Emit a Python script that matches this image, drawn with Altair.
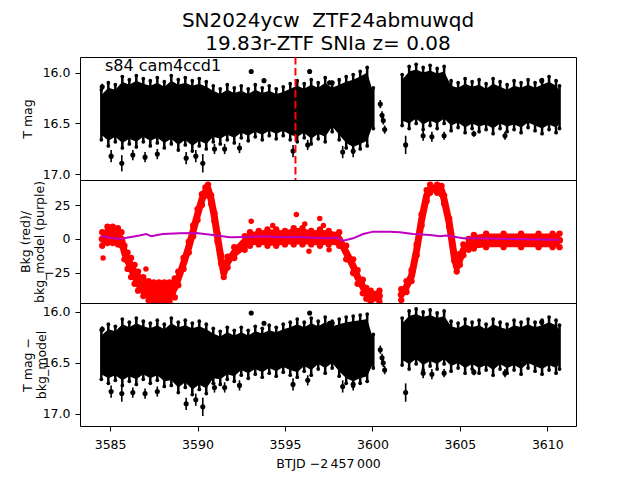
import altair as alt
import pandas as pd

FONT = "DejaVu Sans"
W, H = 496, 123
XDOM = [3583.28, 3611.64]
CORE_INSET = 0.05  # style: how far the solid core sits inside the spike tips

# ---------------- light-curve envelope (panel 1: T mag) ----------------
t_seg1 = [3584.5, 3584.9, 3585.3, 3585.7, 3586.1, 3586.5, 3586.9, 3587.3, 3587.7, 3588.1,
          3588.5, 3588.9, 3589.3, 3589.7, 3590.1, 3590.5, 3590.9, 3591.3, 3591.7, 3592.1,
          3592.5, 3592.9, 3593.3, 3593.7, 3594.1, 3594.5, 3594.9, 3595.3, 3595.7, 3596.1,
          3596.5, 3596.9, 3597.3, 3597.7, 3598.1, 3598.5, 3598.9, 3599.3, 3599.7, 3600.05]
t_seg2 = [3601.7, 3602.1, 3602.5, 3602.9, 3603.3, 3603.7, 3604.1, 3604.5, 3604.9, 3605.3,
          3605.7, 3606.1, 3606.5, 3606.9, 3607.3, 3607.7, 3608.1, 3608.5, 3608.9, 3609.3,
          3609.7, 3610.1, 3610.5, 3610.7]

p1_top_seg1 = [16.17, 16.10, 16.12, 16.04, 16.07, 16.03, 16.06, 16.08, 16.05, 16.09,
               16.03, 16.07, 16.05, 16.08, 16.06, 16.09, 16.13, 16.16, 16.12, 16.15,
               16.13, 16.16, 16.12, 16.15, 16.13, 16.16, 16.14, 16.11, 16.08, 16.11,
               16.07, 16.10, 16.05, 16.10, 16.07, 16.04, 16.02, 15.99, 15.95, 16.15]
p1_bot_seg1 = [16.66, 16.72, 16.68, 16.74, 16.70, 16.73, 16.68, 16.72, 16.69, 16.74,
               16.70, 16.76, 16.71, 16.77, 16.72, 16.75, 16.68, 16.70, 16.66, 16.69,
               16.64, 16.67, 16.63, 16.66, 16.62, 16.65, 16.62, 16.66, 16.68, 16.64,
               16.70, 16.65, 16.68, 16.58, 16.66, 16.74, 16.78, 16.75, 16.72, 16.55]
p1_top_seg2 = [16.02, 15.94, 15.92, 15.95, 15.93, 15.96, 15.94, 16.08, 16.10, 16.06,
               16.09, 16.07, 16.11, 16.06, 16.09, 16.12, 16.08, 16.10, 16.07, 16.10,
               16.07, 16.04, 16.08, 16.13]
p1_bot_seg2 = [16.52, 16.55, 16.50, 16.56, 16.52, 16.55, 16.50, 16.57, 16.54, 16.59,
               16.55, 16.58, 16.56, 16.60, 16.55, 16.58, 16.56, 16.59, 16.54, 16.57,
               16.60, 16.56, 16.59, 16.55]

# ---------------- panel 3: T mag - bkg_model ----------------
p3_top_seg1 = [16.18, 16.12, 16.14, 16.07, 16.10, 16.06, 16.09, 16.11, 16.08, 16.12,
               16.06, 16.10, 16.08, 16.11, 16.09, 16.12, 16.16, 16.19, 16.15, 16.18,
               16.15, 16.18, 16.14, 16.16, 16.13, 16.15, 16.12, 16.10, 16.07, 16.10,
               16.06, 16.09, 16.05, 16.09, 16.07, 16.05, 16.04, 16.03, 16.02, 16.22]
p3_bot_seg1 = [16.66, 16.70, 16.67, 16.72, 16.68, 16.71, 16.66, 16.70, 16.67, 16.73,
               16.72, 16.79, 16.74, 16.81, 16.76, 16.80, 16.70, 16.71, 16.66, 16.68,
               16.62, 16.65, 16.61, 16.64, 16.60, 16.63, 16.59, 16.62, 16.64, 16.58,
               16.62, 16.56, 16.60, 16.55, 16.63, 16.70, 16.73, 16.70, 16.68, 16.55]
p3_top_seg2 = [16.06, 15.99, 15.97, 16.00, 15.98, 16.01, 15.99, 16.09, 16.11, 16.07,
               16.10, 16.08, 16.12, 16.07, 16.10, 16.12, 16.08, 16.10, 16.07, 16.10,
               16.08, 16.05, 16.08, 16.13]
p3_bot_seg2 = [16.52, 16.56, 16.51, 16.57, 16.53, 16.56, 16.51, 16.58, 16.55, 16.60,
               16.56, 16.60, 16.57, 16.62, 16.56, 16.60, 16.57, 16.61, 16.55, 16.58,
               16.61, 16.57, 16.60, 16.56]

# ---------------- isolated points with error bars ----------------
out_t = [3584.55, 3585.06, 3585.67, 3586.3, 3587.0, 3587.7, 3589.35, 3589.9, 3590.3, 3590.97,
         3591.55, 3592.4, 3593.07, 3593.8, 3595.46, 3596.3, 3596.41, 3597.55, 3597.7, 3598.3,
         3598.9, 3600.45, 3600.55, 3600.62, 3600.7, 3601.9, 3602.9, 3603.4, 3604.1, 3607.58,
         3609.68, 3605.8]
out_p1_mag = [16.14, 16.82, 16.89, 16.81, 16.83, 16.80, 16.84, 16.82, 16.89, 16.75,
              16.75, 16.74, 15.99, 16.08, 16.77, 16.71, 15.99, 16.10, 16.10, 16.78,
              16.77, 16.31, 16.42, 16.47, 16.56, 16.71, 16.62, 16.63, 16.62, 16.62,
              16.08, 16.60]
out_p3_mag = [16.17, 16.78, 16.80, 16.79, 16.80, 16.78, 16.90, 16.86, 16.93, 16.74,
              16.74, 16.72, 16.01, 16.11, 16.71, 16.67, 16.01, 16.11, 16.11, 16.73,
              16.71, 16.37, 16.45, 16.50, 16.57, 16.79, 16.60, 16.61, 16.60, 16.60,
              16.10, 16.59]
out_err = [0.03, 0.06, 0.08, 0.05, 0.05, 0.05, 0.06, 0.06, 0.09, 0.05,
           0.05, 0.05, 0.02, 0.02, 0.06, 0.05, 0.02, 0.02, 0.02, 0.06,
           0.06, 0.04, 0.04, 0.04, 0.04, 0.09, 0.05, 0.05, 0.04, 0.04,
           0.02, 0.03]

# ---------------- background (panel 2) ----------------
bkg_t = [3584.55, 3584.85, 3585.15, 3585.45, 3585.65, 3585.82, 3586.0, 3586.2, 3586.4, 3586.6,
         3586.9, 3587.2, 3587.5, 3587.8, 3588.1, 3588.4, 3588.7, 3588.9, 3589.2, 3589.5,
         3589.75, 3590.0, 3590.25, 3590.45, 3590.6, 3590.78, 3590.97, 3591.15, 3591.35, 3591.5,
         3591.72, 3592.1, 3592.7, 3593.0, 3593.5, 3594.0, 3594.5, 3595.0, 3595.5, 3596.0,
         3596.5, 3597.0, 3597.5, 3598.1, 3598.5, 3598.9, 3599.15, 3599.45, 3599.65, 3599.9,
         3600.4,
         3601.65, 3601.95, 3602.24, 3602.53, 3602.81, 3603.1, 3603.3, 3603.7, 3603.95, 3604.1,
         3604.39, 3604.68, 3604.82, 3605.0, 3605.2, 3605.5, 3605.8, 3606.5, 3607.5, 3608.5,
         3609.5, 3610.3, 3610.7]
bkg_mid = [0, 3, 3, 2, 0, -10, -16, -21, -26, -31,
           -35, -38, -39, -39, -39, -39, -36, -29, -18, -6,
           6, 18, 29, 35, 37, 29, 16, 1, -15, -25,
           -17, -10, -3, 0, 1, 1, 1, 1, 2, 2,
           1, 1, 1, 0, -10, -20, -28, -35, -40, -42,
           -42,
           -41, -35, -27, -8, 14, 32, 37, 37, 36, 29,
           12, -13, -21, -15, -8, -4, -2, -1, -1, -1,
           -1, -1, -1]
bkg_spread = [5, 6, 6, 6, 5, 5, 6, 7, 7, 7,
              7, 7, 7, 7, 7, 7, 7, 5, 4, 4,
              4, 4, 4, 3, 3, 3, 3, 3, 3, 3,
              4, 4, 5, 5, 5, 6, 6, 5, 6, 6,
              5, 6, 5, 5, 5, 5, 5, 5, 4, 4,
              4,
              4, 4, 4, 4, 4, 4, 3, 3, 3, 3,
              3, 3, 3, 4, 4, 4, 5, 5, 5, 5,
              5, 5, 5]
bkg_seg = ["a"] * 51 + ["b"] * 23

bkg_out_t = [3584.6, 3587.05, 3593.07, 3594.3, 3595.65, 3596.13, 3596.99, 3597.2, 3596.37, 3597.52]
bkg_out_v = [-14, -22, 13, 10, 18, 11, 15, 10, -9, -8]

model_t = [3584.48, 3585.53, 3586.11, 3586.68, 3587.06, 3587.35, 3588.01, 3588.97, 3589.93, 3590.88,
           3591.83, 3592.79, 3593.74, 3594.70, 3595.65, 3596.60, 3597.56, 3597.94, 3598.32, 3598.89,
           3599.47, 3600.04, 3601.0, 3601.57, 3602.33, 3603.29, 3603.86, 3604.24, 3605.19, 3606.15,
           3608.04, 3610.33, 3610.65]
model_v = [2, 0, 1.2, 2.5, 3.7, 2, 3.7, 4.2, 4.4, 3,
           1.2, 1.5, 2, 1.2, 1.5, 1, 0.5, 1, -1.2, 0.5,
           3.7, 5.4, 5.4, 4.9, 3.7, 2.9, 2, 2.5, 0.5, 0.5,
           0, -0.5, -0.5]

# ---------------- build tables ----------------
def band(ts1, top1, bot1, ts2, top2, bot2):
    df = pd.DataFrame({
        "t": ts1 + ts2,
        "top": top1 + top2,
        "bot": bot1 + bot2,
        "seg": ["a"] * len(ts1) + ["b"] * len(ts2),
    })
    df["ctop"] = df["top"] + CORE_INSET
    df["cbot"] = df["bot"] - CORE_INSET
    return df


band1 = band(t_seg1, p1_top_seg1, p1_bot_seg1, t_seg2, p1_top_seg2, p1_bot_seg2)
band3 = band(t_seg1, p3_top_seg1, p3_bot_seg1, t_seg2, p3_top_seg2, p3_bot_seg2)


def outliers(mags):
    df = pd.DataFrame({"t": out_t, "mag": mags, "err": out_err})
    df["lo"] = df["mag"] - df["err"]
    df["hi"] = df["mag"] + df["err"]
    return df


out1 = outliers(out_p1_mag)
out3 = outliers(out_p3_mag)

bkg = pd.DataFrame({"t": bkg_t, "v": bkg_mid, "s": bkg_spread, "seg": bkg_seg})
bkg["lo"] = bkg["v"] - bkg["s"]
bkg["hi"] = bkg["v"] + bkg["s"]
bkg_out = pd.DataFrame({"t": bkg_out_t, "v": bkg_out_v})
model = pd.DataFrame({"t": model_t, "v": model_v})

xs = alt.Scale(domain=XDOM, nice=False, zero=False)


def mag_panel(band_df, out_df, ydom, title, with_x):
    ys = alt.Scale(domain=ydom, reverse=True, nice=False, zero=False)
    if with_x:
        xax = alt.Axis(values=[3585, 3590, 3595, 3600, 3605, 3610], format="d",
                       title="BTJD \u22122\u2009457\u2009000", labelPadding=7, titlePadding=7)
    else:
        xax = None
    yax = alt.Axis(values=[16.0, 16.5, 17.0], format=".1f", title=title,
                   titleX=-46, titleAngle=270, titleBaseline="bottom", titleLineHeight=14)
    core = alt.Chart(band_df).mark_area(color="black", interpolate="linear", clip=True).encode(
        x=alt.X("t:Q", scale=xs, axis=xax),
        y=alt.Y("ctop:Q", scale=ys, axis=yax),
        y2="cbot:Q",
        detail="seg:N",
    )
    spikes = alt.Chart(band_df).mark_rule(color="black", strokeWidth=2.5, clip=True).encode(
        x="t:Q", y="top:Q", y2="bot:Q")
    tips = alt.Chart(band_df).mark_circle(color="black", size=14, opacity=1, clip=True).encode(
        x="t:Q", y="top:Q")
    tips2 = alt.Chart(band_df).mark_circle(color="black", size=14, opacity=1, clip=True).encode(
        x="t:Q", y="bot:Q")
    bars = alt.Chart(out_df).mark_rule(color="black", strokeWidth=1.6, clip=True).encode(
        x="t:Q", y="lo:Q", y2="hi:Q")
    pts = alt.Chart(out_df).mark_circle(color="black", size=26, opacity=1, clip=True).encode(
        x="t:Q", y="mag:Q")
    return [core, spikes, tips, tips2, bars, pts]


p1_layers = mag_panel(band1, out1, [15.848, 17.054], "T mag", False)
vline = alt.Chart(pd.DataFrame({"t": [3595.6]})).mark_rule(
    color="red", strokeWidth=2, strokeDash=[7.5, 3.5]).encode(x="t:Q")
label = alt.Chart(pd.DataFrame({"txt": ["s84 cam4ccd1"]})).mark_text(
    align="left", baseline="alphabetic", font=FONT, fontSize=16, color="black").encode(
    text="txt:N", x=alt.value(25), y=alt.value(14))
panel1 = alt.layer(*p1_layers, vline, label).properties(
    width=W, height=H,
    title=alt.TitleParams(text=["SN2024ycw \u00a0ZTF24abmuwqd", "19.83r-ZTF SNIa z= 0.08"],
                          anchor="middle", frame="group", offset=2, fontSize=20,
                          lineHeight=23, font=FONT, fontWeight="normal", color="black"),
)

ys2 = alt.Scale(domain=[-47.1, 43.4], nice=False, zero=False)
yax2 = alt.Axis(values=[-25, 0, 25], format="d", title=["Bkg (red)/", "bkg_model (purple)"],
                titleX=-48, titleAngle=270, titleBaseline="bottom", titleLineHeight=14)
red_band = alt.Chart(bkg).mark_area(color="red", interpolate="linear", clip=True).encode(
    x=alt.X("t:Q", scale=xs, axis=None),
    y=alt.Y("hi:Q", scale=ys2, axis=yax2),
    y2="lo:Q",
    detail="seg:N",
)
red_line = alt.Chart(bkg).mark_line(color="red", strokeWidth=7, strokeCap="round",
                                    strokeJoin="round", clip=True).encode(
    x="t:Q", y="v:Q", detail="seg:N")
red_hi = alt.Chart(bkg).mark_circle(color="red", size=40, opacity=1, clip=True).encode(
    x="t:Q", y="hi:Q")
red_lo = alt.Chart(bkg).mark_circle(color="red", size=40, opacity=1, clip=True).encode(
    x="t:Q", y="lo:Q")
red_pts = alt.Chart(bkg_out).mark_circle(color="red", size=30, opacity=1, clip=True).encode(
    x="t:Q", y="v:Q")
purple = alt.Chart(model).mark_line(color="#bf00bf", strokeWidth=2).encode(
    x="t:Q", y="v:Q")
panel2 = alt.layer(red_band, red_line, red_hi, red_lo, red_pts, purple).properties(width=W, height=H)

panel3 = alt.layer(*mag_panel(band3, out3, [15.912, 17.118], ["T mag \u2212", "bkg_model"], True)).properties(
    width=W, height=H)

chart = alt.vconcat(panel1, panel2, panel3, spacing=0, bounds="flush").resolve_scale(
    y="independent"
).properties(
    padding={"left": 10, "top": 2, "right": 5, "bottom": 5},
).configure_view(
    stroke="black", strokeWidth=1
).configure_axis(
    labelFont=FONT, titleFont=FONT, labelFontSize=12.5, titleFontSize=12.5,
    titleFontWeight="normal", labelColor="black", titleColor="black",
    tickColor="black", tickSize=5, labelPadding=5, domain=False, grid=False,
).configure_title(font=FONT)

chart.save("out.html", embed_options={"renderer": "svg", "actions": False})
